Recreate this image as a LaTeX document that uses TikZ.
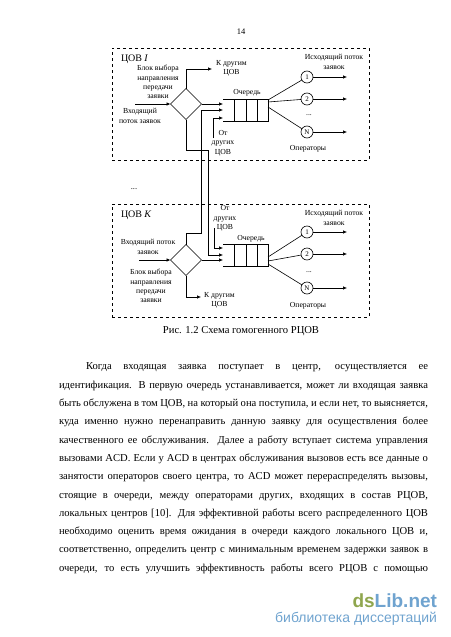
\documentclass[tikz,border=0pt]{standalone}
\usepackage{fontspec}
\setmainfont{Liberation Serif}
\newfontfamily\wmfont{Liberation Sans}
\usepackage{xcolor}
\usetikzlibrary{arrows.meta, positioning, calc, shapes.geometric}
\definecolor{wmgreen}{HTML}{8FA64E}
\definecolor{wmblue}{HTML}{6FA3CF}
\begin{document}
\begin{tikzpicture}[x=1pt, y=-1pt, line width=0.6pt,
    every node/.style={inner sep=0pt, outer sep=0pt},
    lbl/.style={align=center, font=\fontsize{7.7}{9.3}\selectfont},
    namelbl/.style={anchor=west, font=\fontsize{10}{12}\selectfont},
    centrebox/.style={draw, dashed, minimum width=257pt},
    chooser/.style={diamond, draw, fill=white, minimum width=31pt, minimum height=31pt},
    oper/.style={circle, draw, fill=white, minimum size=12pt, font=\fontsize{7}{8}\selectfont},
    flow/.style={-{Latex[length=4pt, width=3.5pt]}}]
    \useasboundingbox (0,0) rectangle (450,637);
    \node (page) at (241,32) {\fontsize{8.5}{10}\selectfont 14};

    % centre I
    \node[centrebox, minimum height=112pt] (boxa) at (240.5,104) {};
    \node[namelbl] (namea) at (121,59) {ЦОВ \textit{I}};
    \node[chooser] (da) at (186,104) {};
    \node[draw, minimum width=34pt, minimum height=22pt] (qa) at (251,110) {};
    \foreach \x in {246,257} \draw (\x,99) -- (\x,121);
    \coordinate (qat) at (223,99);
    \coordinate (qab) at (223,121);
    \draw (qa.north west) -- (qat);
    \draw (qa.south west) -- (qab);
    \node[oper] (a1) at (307,77) {1};
    \node[oper] (a2) at (307,99) {2};
    \node[oper] (aN) at (307,132) {N};
    \coordinate (qaout) at ($(qa.north east)+(0,1)$);
    \draw (qaout) -- (a1);
    \draw ($(qa.north east)+(0,3)$) -- (a2);
    \draw ($(qa.north east)+(0,8)$) -- (aN);
    \foreach \n in {a1,a2,aN} {
        \coordinate (\n end) at ($(\n.center)+(40,0)$);
        \draw[flow] (\n) -- (\n end);
    }
    \coordinate (ina) at (135,104);
    \draw[flow] (ina) -- (da.west);
    \coordinate (uparr) at (212,69);
    \draw[flow] (da.north) |- (uparr);
    \coordinate (qain) at (223,104);
    \draw[flow] (da.east) -- (qain);
    \coordinate (othera) at (213,138);
    \coordinate (otheraend) at (223,118);
    \draw[flow] (othera) |- (otheraend);
    \node[lbl] (l1) at (231.5,68) {К другим\\ЦОВ};
    \node[lbl] (l2) at (158,82) {Блок выбора\\направления\\передачи\\заявки};
    \node[lbl] (l3) at (140,116) {Входящий\\поток заявок};
    \node[lbl] (l4) at (247,93) {Очередь};
    \node[lbl] (l5) at (334,62) {Исходящий поток\\заявок};
    \node[lbl] (l6) at (223,143) {От\\других\\ЦОВ};
    \node[lbl] (l7) at (309,115) {...};
    \node[lbl] (l8) at (308,149) {Операторы};

    \node[lbl, font=\fontsize{8.5}{10}\selectfont] (dots) at (134,189) {...};

    % centre K
    \node[centrebox, minimum height=113pt] (boxk) at (240.5,260.5) {};
    \node[namelbl] (namek) at (121,215) {ЦОВ \textit{K}};
    \node[chooser] (dk) at (186,260) {};
    \node[draw, minimum width=34pt, minimum height=22pt] (qk) at (251,255) {};
    \foreach \x in {246,257} \draw (\x,244) -- (\x,266);
    \coordinate (qkt) at (223,244);
    \coordinate (qkb) at (223,266);
    \draw (qk.north west) -- (qkt);
    \draw (qk.south west) -- (qkb);
    \node[oper] (k1) at (307,232) {1};
    \node[oper] (k2) at (307,254) {2};
    \node[oper] (kN) at (307,288) {N};
    \draw ($(qk.south east)+(0,-9)$) -- (k1);
    \draw ($(qk.south east)+(0,-5)$) -- (k2);
    \draw ($(qk.south east)+(0,-2)$) -- (kN);
    \foreach \n in {k1,k2,kN} {
        \coordinate (\n end) at ($(\n.center)+(40,0)$);
        \draw[flow] (\n) -- (\n end);
    }
    \coordinate (ink) at (139,260);
    \draw[flow] (ink) -- (dk.west);
    \coordinate (downarr) at (201,297);
    \draw[flow] (dk.south) |- (downarr);
    \coordinate (qkin) at (223,260);
    \draw[flow] (dk.east) -- (qkin);
    \coordinate (otherk) at (214,228);
    \coordinate (otherkend) at (223,248);
    \draw[flow] (otherk) |- (otherkend);
    \node[lbl] (m1) at (225,218.5) {От\\других\\ЦОВ};
    \node[lbl] (m2) at (251,239) {Очередь};
    \node[lbl] (m3) at (148,247) {Входящий поток\\заявок};
    \node[lbl] (m4) at (151,286) {Блок выбора\\направления\\передачи\\заявки};
    \node[lbl] (m5) at (219.5,300) {К другим\\ЦОВ};
    \node[lbl] (m6) at (334,218) {Исходящий поток\\заявок};
    \node[lbl] (m7) at (309,272) {...};
    \node[lbl] (m8) at (308,306) {Операторы};

    % links between centres
    \coordinate (bendk) at (201,233);
    \coordinate (qaend) at (223,110);
    \draw[flow] (dk.north) |- (bendk) -- (201,110) -- (qaend);
    \coordinate (benda) at (208,150);
    \coordinate (qkend) at (223,255);
    \draw[flow] (da.south) |- (benda) -- (208,255) -- (qkend);

    \node (caption) at (241,331.5) {\fontsize{10.6}{12}\selectfont Рис. 1.2 Схема гомогенного РЦОВ};

    \node[anchor=north west, text width=369pt, align=justify] (body) at (59,363) {%
        \fontsize{10.6}{18.3}\selectfont\hyphenpenalty=10000 \tolerance=9999 \parfillskip=0pt \parindent=0pt
        \hspace*{27pt}Когда входящая заявка поступает в центр, осуществляется ее\linebreak
        идентификация. В первую очередь устанавливается, может ли входящая заявка\linebreak
        быть обслужена в том ЦОВ, на который она поступила, и если нет, то выясняется,\linebreak
        куда именно нужно перенаправить данную заявку для осуществления более\linebreak
        качественного ее обслуживания. Далее а работу вступает система управления\linebreak
        вызовами ACD. Если у ACD в центрах обслуживания вызовов есть все данные о\linebreak
        занятости операторов своего центра, то ACD может перераспределять вызовы,\linebreak
        стоящие в очереди, между операторами других, входящих в состав РЦОВ,\linebreak
        локальных центров [10]. Для эффективной работы всего распределенного ЦОВ\linebreak
        необходимо оценить время ожидания в очереди каждого локального ЦОВ и,\linebreak
        соответственно, определить центр с минимальным временем задержки заявок в\linebreak
        очереди, то есть улучшить эффективность работы всего РЦОВ с помощью\par};

    \node[anchor=base east] (wma) at (437,607) {\wmfont\bfseries\fontsize{19}{22}\selectfont\textcolor{wmgreen}{ds}\textcolor{wmblue}{Lib.net}};
    \node[anchor=base east] (wmb) at (437,622) {\wmfont\fontsize{14}{15}\selectfont\textcolor{wmblue}{библиотека диссертаций}};
\end{tikzpicture}
\end{document}
